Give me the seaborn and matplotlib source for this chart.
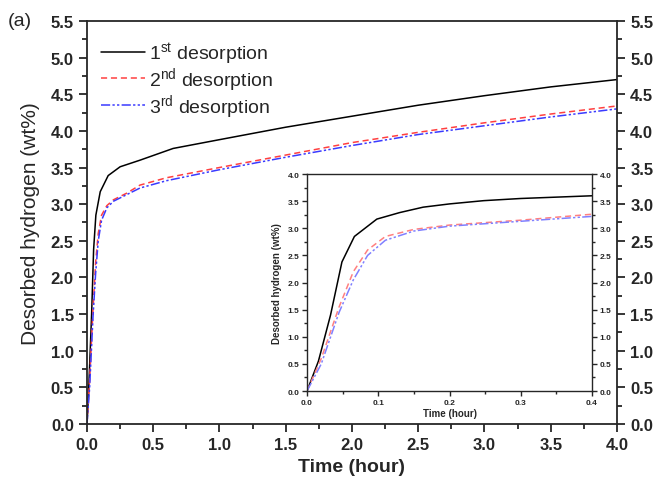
import numpy as np
import pandas as pd
import matplotlib
matplotlib.use("Agg")
import matplotlib.pyplot as plt
from matplotlib.ticker import MultipleLocator
import seaborn as sns

# ---- data ----
t1 = [0, 0.01, 0.02, 0.035, 0.05, 0.067, 0.1, 0.16, 0.25, 0.4, 0.65, 1.0, 1.5, 2.0, 2.5, 3.0, 3.5, 4.0]
h1 = [0, 0.35, 0.8, 1.5, 2.38, 2.85, 3.17, 3.39, 3.51, 3.6, 3.76, 3.88, 4.05, 4.2, 4.35, 4.48, 4.6, 4.70]
t2 = [0, 0.01, 0.02, 0.045, 0.065, 0.085, 0.11, 0.15, 0.2, 0.3, 0.4, 0.6, 1.0, 1.5, 2.0, 2.5, 3.0, 3.5, 4.0]
h2 = [0, 0.3, 0.6, 1.55, 2.2, 2.6, 2.85, 2.98, 3.06, 3.15, 3.26, 3.36, 3.5, 3.67, 3.84, 3.98, 4.11, 4.23, 4.34]
t3 = [0, 0.01, 0.02, 0.045, 0.065, 0.085, 0.11, 0.15, 0.2, 0.3, 0.4, 0.6, 1.0, 1.5, 2.0, 2.5, 3.0, 3.5, 4.0]
h3 = [0, 0.25, 0.5, 1.45, 2.05, 2.5, 2.78, 2.95, 3.04, 3.13, 3.22, 3.32, 3.47, 3.64, 3.8, 3.95, 4.07, 4.19, 4.30]

labels = [r"1$^{\mathrm{st}}$ desorption", r"2$^{\mathrm{nd}}$ desorption", r"3$^{\mathrm{rd}}$ desorption"]
colors = ["black", "#ff4040", "#3a3aff"]
inset_colors = ["black", "#ff8080", "#8080ff"]
styles = [(None), (0, (4, 2.5)), (0, (6, 1.5, 1.5, 1.5, 1.5, 1.5))]

sns.set_style("ticks")
plt.rcParams["font.family"] = ["Liberation Sans", "DejaVu Sans"]
plt.rcParams["mathtext.fontset"] = "custom"
plt.rcParams["mathtext.rm"] = "Liberation Sans"
plt.rcParams["mathtext.it"] = "Liberation Sans:italic"
plt.rcParams["mathtext.bf"] = "Liberation Sans:bold"

fig = plt.figure(figsize=(6.57, 4.81), dpi=100)
ax = fig.add_axes([0.1324, 0.1164, 0.8067, 0.838])

series = [(t1, h1), (t2, h2), (t3, h3)]
for (t, h), lab, c, ls in zip(series, labels, colors, styles):
    df = pd.DataFrame({"t": t, "h": h})
    sns.lineplot(data=df, x="t", y="h", ax=ax, color=c, lw=1.1, label=lab, sort=False)
    if ls is not None:
        ax.lines[-1].set_linestyle(ls)

ax.set_xlim(0, 4.0)
ax.set_ylim(0, 5.5)
ax.xaxis.set_major_locator(MultipleLocator(0.5))
ax.xaxis.set_minor_locator(MultipleLocator(0.25))
ax.yaxis.set_major_locator(MultipleLocator(0.5))
ax.yaxis.set_minor_locator(MultipleLocator(0.25))
ax.tick_params(which="both", direction="out", top=False, right=True, labelright=True, width=1.3)
ax.tick_params(which="major", length=6, labelsize=12)
ax.tick_params(which="minor", length=3.5)
for s in ax.spines.values():
    s.set_visible(True)
    s.set_linewidth(1.3)
ax.set_xlabel("Time (hour)", fontsize=14, fontweight="bold", labelpad=4)
ax.set_ylabel("Desorbed hydrogen (wt%)", fontsize=15, labelpad=8)
leg = ax.legend(loc="upper left", frameon=False, fontsize=14, handlelength=2.3,
                handletextpad=0.2, labelspacing=-0.05, borderaxespad=0.3,
                bbox_to_anchor=(0.0, 0.985))
ax.set_xticklabels(["%.1f" % v for v in ax.get_xticks()], fontweight="bold")
ax.set_yticklabels(["%.1f" % v for v in ax.get_yticks()], fontweight="bold")

fig.text(0.012, 0.955, "(a)", fontsize=14, va="center", ha="left")

# ---- inset ----
ti1 = [0, 0.016, 0.033, 0.049, 0.0665, 0.098, 0.13, 0.163, 0.2, 0.248, 0.3, 0.4]
hi1 = [0, 0.55, 1.4, 2.38, 2.85, 3.17, 3.29, 3.39, 3.45, 3.51, 3.55, 3.6]
ti2 = [0, 0.02, 0.045, 0.065, 0.085, 0.11, 0.15, 0.2, 0.3, 0.4]
hi2 = [0, 0.6, 1.55, 2.2, 2.6, 2.85, 2.98, 3.06, 3.15, 3.26]
ti3 = [0, 0.02, 0.045, 0.065, 0.085, 0.11, 0.15, 0.2, 0.3, 0.4]
hi3 = [0, 0.5, 1.45, 2.05, 2.5, 2.78, 2.95, 3.04, 3.13, 3.22]

axi = fig.add_axes([0.4673, 0.185, 0.4338, 0.451])
for (t, h), c, ls in zip([(ti1, hi1), (ti2, hi2), (ti3, hi3)], inset_colors, styles):
    df = pd.DataFrame({"t": t, "h": h})
    sns.lineplot(data=df, x="t", y="h", ax=axi, color=c, lw=1.1, sort=False, legend=False)
    if ls is not None:
        axi.lines[-1].set_linestyle(ls)
axi.set_xlim(0, 0.4)
axi.set_ylim(0, 4.0)
axi.xaxis.set_major_locator(MultipleLocator(0.1))
axi.xaxis.set_minor_locator(MultipleLocator(0.05))
axi.yaxis.set_major_locator(MultipleLocator(0.5))
axi.yaxis.set_minor_locator(MultipleLocator(0.25))
axi.tick_params(which="both", direction="out", top=False, right=True, labelright=True, width=1.0)
axi.tick_params(which="major", length=3.5, labelsize=6, pad=2)
axi.tick_params(which="minor", length=2)
for s in axi.spines.values():
    s.set_visible(True)
    s.set_linewidth(1.0)
axi.set_xticklabels(["%.1f" % v for v in axi.get_xticks()], fontweight="bold")
axi.set_yticklabels(["%.1f" % v for v in axi.get_yticks()], fontweight="bold")
axi.set_xlabel("Time (hour)", fontsize=7, fontweight="bold", labelpad=2)
axi.set_ylabel("Desorbed hydrogen (wt%)", fontsize=7, fontweight="bold", labelpad=4)

fig.savefig("out.png", dpi=100)
